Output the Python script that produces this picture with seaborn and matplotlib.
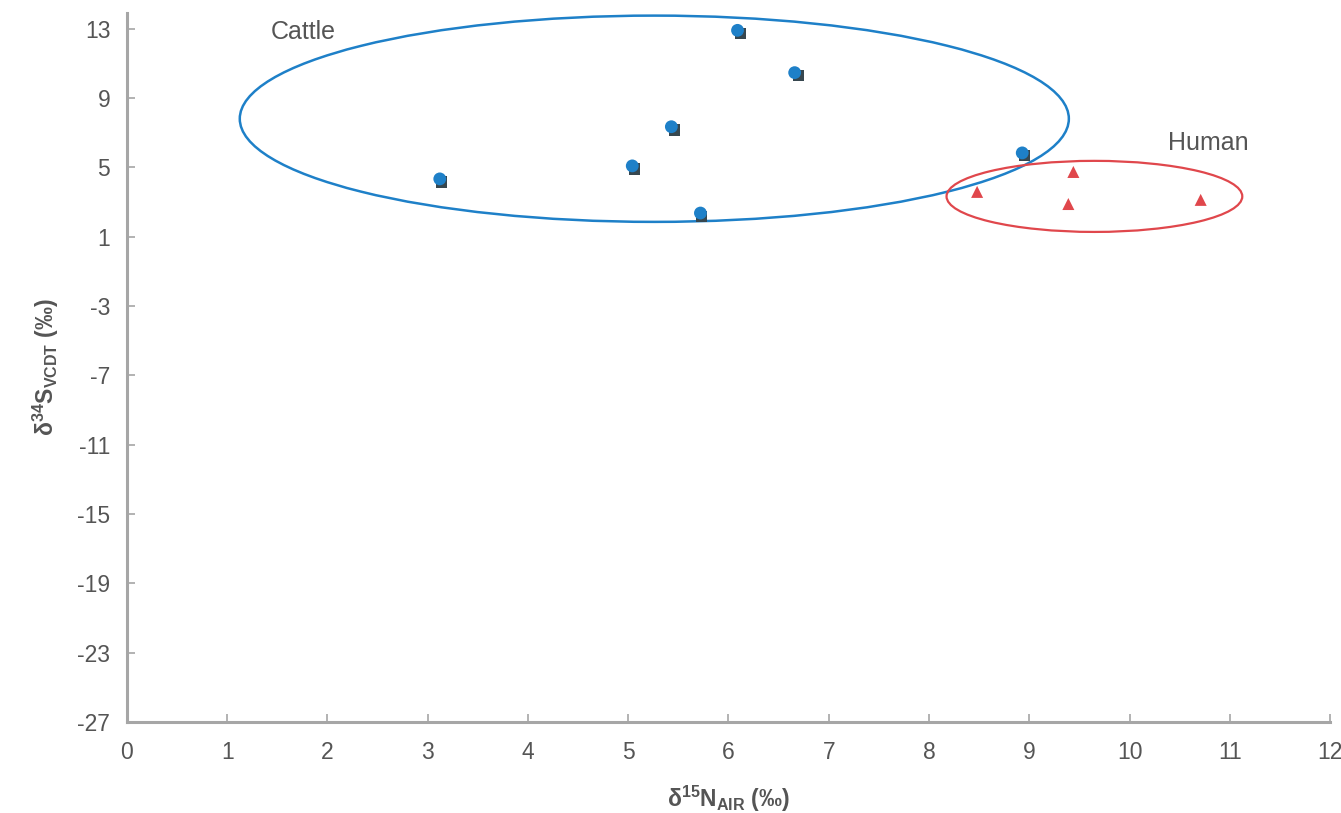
import matplotlib
matplotlib.use("Agg")
import matplotlib.pyplot as plt
import seaborn as sns
import pandas as pd
from matplotlib.patches import Ellipse

# Data
cattle_n = [3.12, 5.04, 5.43, 5.72, 6.09, 6.66, 8.93]
cattle_s = [4.33, 5.08, 7.34, 2.36, 12.9, 10.46, 5.83]
cattle_sq_n = [3.14, 5.06, 5.46, 5.73, 6.12, 6.70, 8.95]
cattle_sq_s = [4.15, 4.90, 7.15, 2.18, 12.72, 10.28, 5.68]
human_n = [8.48, 9.44, 9.39, 10.71]
human_s = [3.58, 4.73, 2.88, 3.12]
x_ticks = list(range(0, 13))
y_ticks = [-27, -23, -19, -15, -11, -7, -3, 1, 5, 9, 13]

sns.set_theme(style="white")
plt.rcParams['font.family'] = ['Liberation Sans', 'DejaVu Sans']
plt.rcParams['mathtext.fontset'] = 'custom'
plt.rcParams['mathtext.rm'] = 'Liberation Sans'
plt.rcParams['mathtext.bf'] = 'Liberation Sans:bold'
plt.rcParams['mathtext.it'] = 'Liberation Sans:italic'
plt.rcParams['axes.unicode_minus'] = False

fig = plt.figure(figsize=(13.41, 8.13), dpi=100)
ax = fig.add_axes([0.0947, 0.112, 0.8971, 0.872])

blue = "#1e80c8"
dark = "#37474f"
red = "#e0474c"
text_c = "#555555"
spine_c = "#a6a6a6"

df_sq = pd.DataFrame({"n": cattle_sq_n, "s": cattle_sq_s})
df_c = pd.DataFrame({"n": cattle_n, "s": cattle_s})
df_h = pd.DataFrame({"n": human_n, "s": human_s})

sns.scatterplot(data=df_sq, x="n", y="s", marker="s", s=65, color=dark, edgecolor="none", ax=ax, zorder=3)
sns.scatterplot(data=df_c, x="n", y="s", marker="o", s=85, color=blue, edgecolor="none", ax=ax, zorder=4)
sns.scatterplot(data=df_h, x="n", y="s", marker="^", s=75, color=red, edgecolor="none", ax=ax, zorder=4)

ax.add_patch(Ellipse((5.26, 7.80), 8.27, 11.9, fill=False, edgecolor=blue, lw=1.8, zorder=2))
ax.add_patch(Ellipse((9.65, 3.32), 2.95, 4.1, fill=False, edgecolor=red, lw=1.6, zorder=2))

ax.text(1.43, 12.8, "Cattle", fontsize=18, color=text_c, va="center", ha="left")
ax.text(10.38, 6.4, "Human", fontsize=18, color=text_c, va="center", ha="left")

ax.set_xlim(0, 12)
ax.set_ylim(-27, 13.9)
ax.set_xticks(x_ticks)
ax.set_yticks(y_ticks)
ax.tick_params(axis="both", direction="in", length=6, width=1.2, color=spine_c,
               labelsize=16.5, labelcolor=text_c, bottom=True, left=True)
ax.tick_params(axis="x", pad=14)
ax.tick_params(axis="y", pad=12)
for side in ["top", "right"]:
    ax.spines[side].set_visible(False)
for side in ["left", "bottom"]:
    ax.spines[side].set_color(spine_c)
    ax.spines[side].set_linewidth(2.2)

ax.set_xlabel(r"$\mathbf{\delta^{15}N_{AIR}}$ (‰)", fontsize=16.5, fontweight="bold", color=text_c, labelpad=14)
ax.set_ylabel(r"$\mathbf{\delta^{34}S_{VCDT}}$ (‰)", fontsize=16.5, fontweight="bold", color=text_c, labelpad=12)
ax.grid(False)

fig.savefig("out.png", dpi=100)
